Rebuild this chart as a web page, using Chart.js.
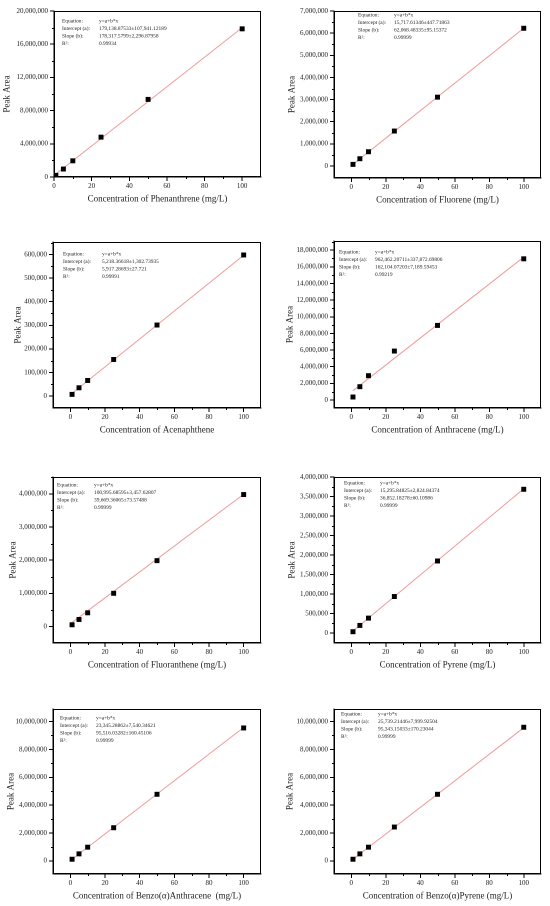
<!DOCTYPE html>
<html lang="en">
<head>
<meta charset="UTF-8">
<title>PAH Calibration Curves</title>
<script src="https://cdn.jsdelivr.net/npm/chart.js"></script>
<style>
  body { margin: 0; background: #fff; }
  #wrap { position: relative; width: 550px; height: 906px; overflow: hidden; }
  #wrap canvas { position: absolute; }
</style>
</head>
<body>
<div id="wrap"></div>
<script>
// standard concentrations (mg/L)
const concentrations = [1, 5, 10, 25, 50, 100];
const xTicks = [0, 20, 40, 60, 80, 100];

const phenanthreneArea = [200000, 960000, 1950000, 4800000, 9350000, 17850000];
const fluoreneArea = [75000, 330000, 646000, 1580000, 3110000, 6220000];
const acenaphtheneArea = [7000, 35000, 66000, 155000, 301000, 598000];
const anthraceneArea = [360000, 1600000, 2920000, 5880000, 8960000, 16960000];
const fluorantheneArea = [50000, 210000, 411000, 1000000, 1985000, 3980000];
const pyreneArea = [34000, 196000, 383000, 936000, 1847000, 3685000];
const benzoAnthraceneArea = [120000, 505000, 985000, 2380000, 4780000, 9540000];
const benzoPyreneArea = [120000, 505000, 985000, 2430000, 4780000, 9590000];

// fitted line, value at x = 1 and x = 100
const phenanthreneFit = [360000, 18000000];
const fluoreneFit = [78000, 6220000];
const acenaphtheneFit = [11100, 597000];
const anthraceneFit = [1120000, 17170000];
const fluorantheneFit = [120000, 3990000];
const pyreneFit = [52000, 3700000];
const benzoAnthraceneFit = [119000, 9575000];
const benzoPyreneFit = [121000, 9560000];

// y tick labels
const phenanthreneTicks = [0, 4000000, 8000000, 12000000, 16000000, 20000000];
const fluoreneTicks = [0, 1000000, 2000000, 3000000, 4000000, 5000000, 6000000, 7000000];
const acenaphtheneTicks = [0, 100000, 200000, 300000, 400000, 500000, 600000];
const anthraceneTicks = [0, 2000000, 4000000, 6000000, 8000000, 10000000, 12000000, 14000000, 16000000, 18000000];
const fluorantheneTicks = [0, 1000000, 2000000, 3000000, 4000000];
const pyreneTicks = [0, 500000, 1000000, 1500000, 2000000, 2500000, 3000000, 3500000, 4000000];
const benzoAnthraceneTicks = [0, 2000000, 4000000, 6000000, 8000000, 10000000];
const benzoPyreneTicks = [0, 2000000, 4000000, 6000000, 8000000, 10000000];

// fit report text
const fitLabels = ["Equation:", "Intercept (a):", "Slope (b):", "R\u00b2:"];
const phenanthreneFitText = ["y=a+b*x", "179,138.87533\u00b1107,941.12189", "178,317.5799\u00b12,296.87958", "0.99934"];
const fluoreneFitText = ["y=a+b*x", "15,717.61346\u00b1447.71863", "62,068.48335\u00b195.15372", "0.99999"];
const acenaphtheneFitText = ["y=a+b*x", "5,218.36618\u00b11,302.73935", "5,917.28693\u00b127.721", "0.99991"];
const anthraceneFitText = ["y=a+b*x", "962,462.20711\u00b1337,872.69806", "162,104.07203\u00b17,189.59453", "0.99219"];
const fluorantheneFitText = ["y=a+b*x", "100,995.68595\u00b13,457.62807", "39,669.36065\u00b173.57488", "0.99999"];
const pyreneFitText = ["y=a+b*x", "15,295.84825\u00b12,824.84374", "36,852.18278\u00b160.10986", "0.99999"];
const benzoAnthraceneFitText = ["y=a+b*x", "23,345.28862\u00b17,540.34621", "95,516.03282\u00b1160.45106", "0.99999"];
const benzoPyreneFitText = ["y=a+b*x", "25,739.21446\u00b17,999.92504", "95,343.15033\u00b1170.23044", "0.99999"];

const serif = "'Liberation Serif', 'Times New Roman', serif";

// plot boxes in page pixels: L, R, T, B; axis ranges; text placement
const panels = [
  { title: "Concentration of Phenanthrene (mg/L)", area: phenanthreneArea, fit: phenanthreneFit, yTicks: phenanthreneTicks, text: phenanthreneFitText,
    box: [54, 261, 11, 177], x: [0, 110], y: [0, 20000000], yTitle: 1.6, note: [8, 45, 10] },
  { title: "Concentration of Fluorene (mg/L)", area: fluoreneArea, fit: fluoreneFit, yTicks: fluoreneTicks, text: fluoreneFitText,
    box: [334, 541, 11, 178], x: [-10, 110], y: [-540000, 7000000], yTitle: 6.6, note: [24, 60, 4] },
  { title: "Concentration of Acenaphthene", area: acenaphtheneArea, fit: acenaphtheneFit, yTicks: acenaphtheneTicks, text: acenaphtheneFitText,
    box: [53, 261, 242, 408], x: [-10, 110], y: [-50700, 653000], yTitle: 13.6, note: [10, 49, 12] },
  { title: "Concentration of Anthracene (mg/L)", area: anthraceneArea, fit: anthraceneFit, yTicks: anthraceneTicks, text: anthraceneFitText,
    box: [334, 541, 241, 408], x: [-10, 110], y: [-960000, 19100000], yTitle: 4.6, note: [5, 41, 11] },
  { title: "Concentration of Fluoranthene (mg/L)", area: fluorantheneArea, fit: fluorantheneFit, yTicks: fluorantheneTicks, text: fluorantheneFitText,
    box: [53, 261, 477, 643], x: [-10, 110], y: [-500000, 4510000], yTitle: 8.6, note: [4, 41, 8] },
  { title: "Concentration of Pyrene (mg/L)", area: pyreneArea, fit: pyreneFit, yTicks: pyreneTicks, text: pyreneFitText,
    box: [334, 541, 477, 643], x: [-10, 110], y: [-255000, 4000000], yTitle: 6.6, note: [10, 46, 6] },
  { title: "Concentration of Benzo(\u03b1)Anthracene  (mg/L)", area: benzoAnthraceneArea, fit: benzoAnthraceneFit, yTicks: benzoAnthraceneTicks, text: benzoAnthraceneFitText,
    box: [53, 261, 709, 874], x: [-10, 110], y: [-940000, 10900000], yTitle: 6.6, note: [7, 43, 9] },
  { title: "Concentration of Benzo(\u03b1)Pyrene (mg/L)", area: benzoPyreneArea, fit: benzoPyreneFit, yTicks: benzoPyreneTicks, text: benzoPyreneFitText,
    box: [334, 541, 709, 874], x: [-10, 110], y: [-940000, 10900000], yTitle: 4.6, note: [7, 44, 5] }
];

const Y_W = 54, PAD_T = 8, PAD_R = 6, X_H = 34;

// frame, minor ticks and the fit report
const framePlugin = {
  id: 'frame',
  afterDraw(chart, args, opts) {
    const { ctx, chartArea: a, scales } = chart;
    const p = opts.panel;
    ctx.save();
    ctx.strokeStyle = '#000';
    ctx.lineWidth = 1;
    ctx.strokeRect(Math.round(a.left) + 0.5, Math.round(a.top) + 0.5,
      Math.round(a.right - a.left) - 1, Math.round(a.bottom - a.top) - 1);

    // minor ticks half way between majors
    ctx.beginPath();
    for (let i = 0; i < xTicks.length; i++) {
      const v = xTicks[i] + (xTicks[1] - xTicks[0]) / 2;
      if (v >= p.x[1]) continue;
      const px = Math.round(scales.x.getPixelForValue(v)) + 0.5;
      ctx.moveTo(px, a.bottom); ctx.lineTo(px, a.bottom + 2);
    }
    const yt = p.yTicks, ys = yt[1] - yt[0];
    for (let i = 0; i < yt.length; i++) {
      const v = yt[i] + ys / 2;
      if (v >= p.y[1]) continue;
      const py = Math.round(scales.y.getPixelForValue(v)) + 0.5;
      ctx.moveTo(a.left, py); ctx.lineTo(a.left - 2, py);
    }
    ctx.stroke();

    ctx.fillStyle = '#222';
    ctx.font = `5.4px ${serif}`;
    ctx.textBaseline = 'middle';
    const [lx, vx, ty] = p.note;
    for (let i = 0; i < 4; i++) {
      const y = a.top + ty + i * 7.5;
      ctx.fillText(fitLabels[i], a.left + lx, y);
      ctx.fillText(p.text[i], a.left + vx, y);
    }
    ctx.restore();
  }
};

const wrap = document.getElementById('wrap');

panels.forEach(p => {
  const [L, R, T, B] = p.box;
  const w = R - L + Y_W + PAD_R, h = B - T + PAD_T + X_H;
  const canvas = document.createElement('canvas');
  canvas.style.left = (L - Y_W) + 'px';
  canvas.style.top = (T - PAD_T) + 'px';
  canvas.style.width = w + 'px';
  canvas.style.height = h + 'px';
  canvas.width = w; canvas.height = h;
  wrap.appendChild(canvas);

  new Chart(canvas, {
    type: 'scatter',
    data: {
      datasets: [
        {
          data: concentrations.map((c, i) => ({ x: c, y: p.area[i] })),
          pointStyle: 'rect',
          pointRadius: 3.5,
          backgroundColor: '#000',
          borderColor: '#000',
          borderWidth: 0,
          order: 1
        },
        {
          type: 'line',
          data: [{ x: concentrations[0], y: p.fit[0] }, { x: concentrations[concentrations.length - 1], y: p.fit[1] }],
          borderColor: '#f09a9a',
          borderWidth: 1,
          pointRadius: 0,
          fill: false,
          order: 2
        }
      ]
    },
    options: {
      responsive: false,
      animation: false,
      devicePixelRatio: 2,
      layout: { autoPadding: false, padding: { top: PAD_T, right: PAD_R, left: 0, bottom: 0 } },
      plugins: {
        legend: { display: false },
        tooltip: { enabled: false },
        frame: { panel: p }
      },
      scales: {
        x: {
          type: 'linear',
          min: p.x[0], max: p.x[1],
          afterBuildTicks: s => { s.ticks = xTicks.map(v => ({ value: v })); },
          afterFit: s => { s.height = X_H; },
          grid: { display: true, drawOnChartArea: false, drawTicks: true, tickLength: 4, color: '#000' },
          border: { display: true, color: '#000' },
          ticks: { autoSkip: false, maxRotation: 0, padding: 1, color: '#222', font: { family: serif, size: 7 } },
          title: { display: true, text: p.title, color: '#222', font: { family: serif, size: 9 }, padding: { top: 0, bottom: 6.6 } }
        },
        y: {
          type: 'linear',
          min: p.y[0], max: p.y[1],
          afterBuildTicks: s => { s.ticks = p.yTicks.map(v => ({ value: v })); },
          afterFit: s => { s.width = Y_W; },
          grid: { display: true, drawOnChartArea: false, drawTicks: true, tickLength: 4, color: '#000' },
          border: { display: true, color: '#000' },
          ticks: {
            autoSkip: false, padding: 2, color: '#222', font: { family: serif, size: 7 },
            callback: v => v.toLocaleString('en-US')
          },
          title: { display: true, text: 'Peak Area', color: '#222', font: { family: serif, size: 9 }, padding: { top: p.yTitle, bottom: 0 } }
        }
      }
    },
    plugins: [framePlugin]
  });
});
</script>
</body>
</html>
